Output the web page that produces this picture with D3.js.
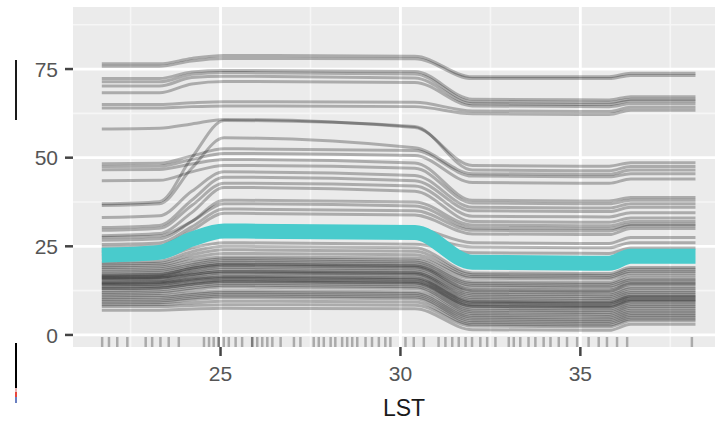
<!DOCTYPE html>
<html><head><meta charset="utf-8">
<script src="https://cdn.jsdelivr.net/npm/d3@7"></script>
<style>html,body{margin:0;padding:0;background:#fff;overflow:hidden;} svg{display:block;}</style>
</head><body>
<script>
// ---- data ----
const lstGrid = [21.7, 23.3, 24.2, 25.1, 30.4, 32.0, 35.8, 36.4, 38.2];
const iceCurves = [
  [76.5,76.5,78.0,78.8,78.6,72.8,72.8,73.8,73.8],
  [75.8,75.8,77.3,78.0,77.9,72.3,72.3,73.2,73.2],
  [72.3,72.3,74.2,74.6,74.3,66.5,66.3,67.2,67.2],
  [71.4,71.4,73.5,74.0,73.6,65.8,65.6,66.5,66.5],
  [70.2,70.2,72.6,73.0,72.5,65.2,65.0,66.0,66.0],
  [68.3,68.3,70.8,71.5,71.2,64.6,64.4,65.2,65.2],
  [65.0,65.0,65.5,65.8,65.6,63.2,63.0,64.2,64.2],
  [64.0,64.0,64.4,64.6,64.4,62.4,62.2,63.4,63.4],
  [58.1,58.3,59.5,60.8,58.5,47.8,47.6,48.6,48.6],
  [37.0,37.6,50.0,60.5,58.8,46.5,46.3,47.5,47.5],
  [36.5,37.0,47.0,55.6,52.8,45.5,45.3,46.5,46.5],
  [48.3,48.4,50.5,52.5,52.0,44.8,44.6,45.5,45.5],
  [47.5,47.6,49.5,51.2,50.6,43.0,42.8,44.0,44.0],
  [46.6,46.7,48.2,49.5,48.5,38.0,37.8,38.8,38.8],
  [43.5,43.6,46.0,47.8,47.0,37.2,37.0,38.0,38.0],
  [33.1,33.6,40.5,46.0,45.0,36.0,35.8,37.0,37.0],
  [30.3,30.9,38.0,44.5,43.5,35.0,34.8,36.0,36.0],
  [29.5,30.1,36.5,42.8,42.0,33.5,33.3,34.5,34.5],
  [28.0,28.6,34.5,41.6,40.5,32.0,31.8,33.0,33.0],
  [26.7,27.1,32.0,38.0,37.5,31.0,30.8,32.0,32.0],
  [27.5,27.9,32.0,37.0,36.4,30.2,30.0,31.2,31.2],
  [25.5,25.9,30.5,35.5,35.0,29.5,29.3,30.8,30.8],
  [24.8,25.1,29.5,34.3,33.8,28.5,28.3,30.0,30.0],
  [23.5,23.8,27.0,30.5,30.0,26.0,25.8,27.5,27.5],
  [22.5,22.8,25.8,28.0,27.6,24.8,24.6,26.0,26.0],
  [21.5,21.8,24.5,26.0,25.6,23.2,23.0,24.5,24.5],
  [20.5,20.8,23.5,25.0,24.6,17.5,17.3,19.0,19.0],
  [20.0,20.2,22.6,24.0,23.6,17.0,16.8,18.5,18.5],
  [19.5,19.7,21.8,23.0,22.6,16.5,16.3,18.0,18.0],
  [19.0,19.2,21.0,22.0,21.7,16.0,15.8,17.5,17.5],
  [18.5,18.7,20.3,21.5,21.1,15.0,14.8,16.8,16.8],
  [18.0,18.2,19.8,21.0,20.6,14.5,14.3,16.0,16.0],
  [17.5,17.7,19.3,20.5,20.1,14.0,13.8,15.5,15.5],
  [17.0,17.2,18.8,20.0,19.6,13.5,13.3,15.0,15.0],
  [16.8,17.0,18.8,19.8,19.4,12.8,12.6,14.5,14.5],
  [16.5,16.7,18.3,19.5,19.1,12.5,12.3,14.2,14.2],
  [16.2,16.4,17.9,19.0,18.6,12.0,11.8,13.5,13.5],
  [16.0,16.2,17.5,18.5,18.1,11.5,11.3,13.0,13.0],
  [15.8,16.0,17.1,17.8,17.4,10.5,10.3,12.0,12.0],
  [15.5,15.7,17.0,18.0,17.6,11.0,10.8,12.5,12.5],
  [15.0,15.2,16.5,17.5,17.1,10.0,9.8,11.5,11.5],
  [14.8,15.0,16.1,17.0,16.6,9.5,9.3,11.0,11.0],
  [14.5,14.7,15.7,16.5,16.1,9.0,8.8,10.5,10.5],
  [14.2,14.4,15.5,16.2,15.8,9.2,9.0,10.8,10.8],
  [14.0,14.2,15.2,16.0,15.6,8.5,8.3,10.0,10.0],
  [13.5,13.7,14.7,15.5,15.1,8.0,7.8,9.5,9.5],
  [13.2,13.4,14.4,15.2,14.8,8.2,8.0,9.8,9.8],
  [13.0,13.2,14.2,15.0,14.6,7.5,7.3,9.0,9.0],
  [12.5,12.7,13.7,14.5,14.1,7.0,6.8,8.5,8.5],
  [12.0,12.2,13.2,14.0,13.6,6.5,6.3,8.0,8.0],
  [11.5,11.7,12.7,13.5,13.1,6.0,5.8,7.5,7.5],
  [11.0,11.1,11.9,12.5,12.2,5.5,5.3,7.0,7.0],
  [10.5,10.6,11.4,12.0,11.7,5.0,4.8,6.5,6.5],
  [10.0,10.1,10.9,11.5,11.2,4.5,4.3,6.0,6.0],
  [9.5,9.6,10.4,11.0,10.7,4.0,3.8,5.5,5.5],
  [9.0,9.1,9.9,10.5,10.2,3.5,3.3,5.0,5.0],
  [8.5,8.6,9.1,9.5,9.3,3.0,2.8,4.5,4.5],
  [8.0,8.0,8.3,8.5,8.4,2.5,2.3,4.0,4.0],
  [7.0,7.0,7.3,7.5,7.4,1.5,1.3,3.0,3.0]
];
const meanCurve = [22.5, 23.3, 27.0, 29.3, 28.9, 20.5, 20.2, 22.2, 22.2];
const rugLST = [21.71,21.90,22.13,22.41,22.92,23.10,23.33,23.56,23.84,24.54,24.68,24.81,24.95,24.95,
  25.09,25.23,25.42,25.60,25.88,25.88,26.02,26.16,26.30,26.44,26.67,27.04,27.22,27.59,27.73,27.87,
  28.06,28.19,28.38,28.52,28.66,28.80,29.03,29.21,29.40,29.58,29.72,30.14,30.37,30.65,31.06,31.25,
  31.44,31.62,31.81,31.99,32.22,32.41,32.64,33.01,33.15,33.33,33.56,33.75,33.98,34.17,34.40,34.63,
  34.91,35.23,35.51,35.74,36.02,36.30,38.10];
const xTicks = [25, 30, 35];
const yTicks = [0, 25, 50, 75];
const xMinor = [22.5, 27.5, 32.5, 37.5];
const yMinor = [12.5, 37.5, 62.5, 87.5];
const xLabel = "LST";

// ---- layout ----
const W = 715, H = 421;
const P = {left: 73, right: 725, top: 7, bottom: 347};
const x = d3.scaleLinear().domain([20.9, 39.02]).range([P.left, P.right]);
const y = d3.scaleLinear().domain([-3.4, 92.5]).range([P.bottom, P.top]);

const svg = d3.select("body").append("svg").attr("width", W).attr("height", H);

const defs = svg.append("defs");
defs.append("clipPath").attr("id", "clip")
  .append("rect").attr("x", P.left).attr("y", P.top)
  .attr("width", P.right - P.left).attr("height", P.bottom - P.top);
defs.append("filter").attr("id", "soft").attr("x", "-5%").attr("y", "-5%").attr("width", "110%").attr("height", "110%")
  .append("feGaussianBlur").attr("stdDeviation", 0.7);

// panel background
svg.append("rect").attr("x", P.left).attr("y", P.top)
  .attr("width", P.right - P.left).attr("height", P.bottom - P.top).attr("fill", "#EBEBEB");

const grid = svg.append("g").attr("clip-path", "url(#clip)");
grid.selectAll(".xmin").data(xMinor).join("line")
  .attr("x1", d => x(d)).attr("x2", d => x(d)).attr("y1", P.top).attr("y2", P.bottom)
  .attr("stroke", "#f6f6f6").attr("stroke-width", 1.6);
grid.selectAll(".ymin").data(yMinor).join("line")
  .attr("y1", d => y(d)).attr("y2", d => y(d)).attr("x1", P.left).attr("x2", P.right)
  .attr("stroke", "#f6f6f6").attr("stroke-width", 1.6);
grid.selectAll(".xmaj").data(xTicks).join("line")
  .attr("x1", d => x(d)).attr("x2", d => x(d)).attr("y1", P.top).attr("y2", P.bottom)
  .attr("stroke", "#fff").attr("stroke-width", 2.8);
grid.selectAll(".ymaj").data(yTicks).join("line")
  .attr("y1", d => y(d)).attr("y2", d => y(d)).attr("x1", P.left).attr("x2", P.right)
  .attr("stroke", "#fff").attr("stroke-width", 2.8);

const outer = svg.append("g").attr("clip-path", "url(#clip)");
const plot = outer.append("g").attr("filter", "url(#soft)");
const line = d3.line().curve(d3.curveMonotoneX).x((d, i) => x(lstGrid[i])).y(d => y(d));

plot.selectAll(".ice").data(iceCurves).join("path")
  .attr("d", line).attr("fill", "none").attr("stroke", "#000")
  .attr("stroke-opacity", 0.27).attr("stroke-width", 3)
  .attr("stroke-linejoin", "round");

plot.append("path").datum(meanCurve).attr("d", line)
  .attr("fill", "none").attr("stroke", "#48CBCC").attr("stroke-width", 15)
  .attr("stroke-linejoin", "round").attr("stroke-linecap", "butt");

// rug
plot.selectAll(".rug").data(rugLST).join("line")
  .attr("x1", d => x(d)).attr("x2", d => x(d))
  .attr("y1", P.bottom - 10).attr("y2", P.bottom)
  .attr("stroke", "#000").attr("stroke-opacity", 0.28).attr("stroke-width", 2.5);

// axes (ggplot-like)
const font = "'Liberation Sans', Arial, sans-serif";
const axY = svg.append("g");
axY.selectAll("line").data(yTicks).join("line")
  .attr("x1", P.left - 8).attr("x2", P.left).attr("y1", d => y(d)).attr("y2", d => y(d))
  .attr("stroke", "#444").attr("stroke-width", 2.5);
axY.selectAll("text").data(yTicks).join("text")
  .attr("x", P.left - 15).attr("y", d => y(d)).attr("dy", "0.36em")
  .attr("text-anchor", "end").attr("fill", "#555")
  .style("font-family", font).style("font-size", "21px")
  .text(d => d);

const axX = svg.append("g");
axX.selectAll("line").data(xTicks).join("line")
  .attr("x1", d => x(d)).attr("x2", d => x(d)).attr("y1", P.bottom).attr("y2", P.bottom + 9)
  .attr("stroke", "#444").attr("stroke-width", 2.5);
axX.selectAll("text").data(xTicks).join("text")
  .attr("x", d => x(d)).attr("y", 381)
  .attr("text-anchor", "middle").attr("fill", "#555")
  .style("font-family", font).style("font-size", "21px")
  .text(d => d);

svg.append("text").attr("x", (P.left + P.right) / 2 + 5).attr("y", 416)
  .attr("text-anchor", "middle").attr("fill", "#1a1a1a")
  .style("font-family", font).style("font-size", "23px")
  .text(xLabel);

// stray marks at the left edge of the reference image
const marks = svg.append("g");
marks.append("rect").attr("x", 15).attr("y", 60).attr("width", 2).attr("height", 60).attr("fill", "#1a1a1a");
marks.append("rect").attr("x", 15).attr("y", 343).attr("width", 2).attr("height", 45).attr("fill", "#000");
marks.append("rect").attr("x", 15).attr("y", 388).attr("width", 2).attr("height", 4).attr("fill", "#e8b4b4");
marks.append("rect").attr("x", 15).attr("y", 392).attr("width", 2).attr("height", 5).attr("fill", "#e8463c");
marks.append("rect").attr("x", 15).attr("y", 397).attr("width", 2).attr("height", 6).attr("fill", "#6a7fc1");
</script>
</body></html>
